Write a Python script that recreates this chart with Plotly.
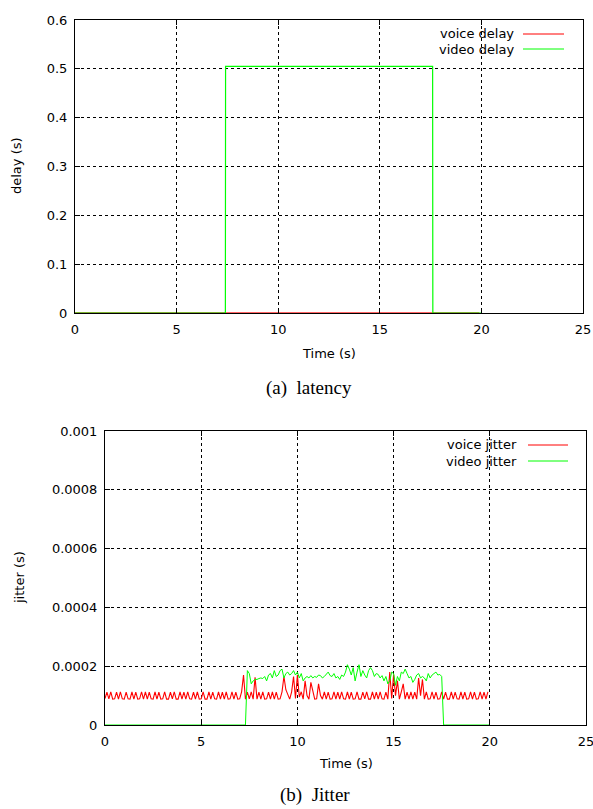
import plotly.graph_objects as go

W, H = 593, 809

# ---------------- data ----------------
# (a) latency
voice_delay_t = [0.0, 19.9]
voice_delay = [0.0002, 0.0002]
video_delay_t = [0.0, 7.4, 7.41, 17.6, 17.61, 20.0]
video_delay = [0.0, 0.0, 0.505, 0.505, 0.0, 0.0]

# (b) jitter, sampled every 0.1 s (values in microseconds)
jitter_t = [i / 10 for i in range(201)]
voice_jitter_us = [
    90, 112, 89, 113, 88, 89, 112, 88, 113, 89,
    88, 112, 89, 88, 113, 88, 112, 88, 89, 113,
    88, 113, 88, 112, 89, 88, 113, 88, 112, 88,
    89, 113, 88, 88, 112, 89, 113, 88, 88, 113,
    88, 112, 88, 113, 89, 88, 112, 88, 113, 88,
    89, 113, 88, 88, 113, 88, 112, 89, 88, 113,
    88, 112, 88, 113, 88, 89, 113, 88, 112, 88,
    89, 113, 170, 88, 112, 89, 113, 88, 162, 88,
    112, 88, 113, 88, 89, 112, 88, 113, 88, 112,
    88, 89, 113, 165, 120, 100, 88, 113, 165, 90,
    170, 95, 113, 88, 150, 100, 88, 145, 112, 88,
    89, 140, 100, 88, 113, 88, 112, 88, 89, 113,
    88, 112, 88, 113, 89, 88, 113, 88, 112, 88,
    89, 113, 88, 88, 112, 89, 113, 88, 88, 113,
    88, 112, 88, 113, 89, 88, 112, 88, 180, 90,
    172, 100, 150, 88, 113, 140, 88, 112, 88, 113,
    88, 112, 88, 160, 100, 155, 88, 113, 88, 89,
    113, 88, 112, 88, 89, 113, 88, 112, 88, 88,
    113, 88, 112, 89, 88, 113, 88, 112, 88, 89,
    113, 88, 112, 88, 89, 113, 88, 112, 88, 113,
]
video_jitter_us = (
    [0] * 74
    + [
        185, 175, 140, 150, 155, 155,                      # 7.4-7.9
        158, 160, 158, 165, 150, 170, 175, 160, 185, 165,  # 8.x
        170, 185, 190, 160, 175, 180, 170, 175, 185, 170,  # 9.x
        180, 160, 175, 150, 160, 165, 160, 168, 160, 165,  # 10.x
        162, 170, 168, 160, 165, 172, 180, 168, 165, 175,  # 11.x
        160, 165, 155, 170, 165, 180, 205, 190, 170, 195,  # 12.x
        150, 180, 205, 165, 185, 170, 160, 185, 195, 185,  # 13.x
        165, 175, 172, 160, 168, 150, 165, 140, 150, 180,  # 14.x
        175, 135, 165, 150, 180, 175, 190, 175, 160, 165,  # 15.x
        145, 155, 170, 175, 160, 165, 160, 150, 175, 160,  # 16.x
        170, 175, 180, 170, 172, 165,                      # 17.0-17.5
    ]
    + [0] * 25
)

x_ticks = [0, 5, 10, 15, 20, 25]
delay_ticks = [0, 0.1, 0.2, 0.3, 0.4, 0.5, 0.6]
delay_tick_text = ["0", "0.1", "0.2", "0.3", "0.4", "0.5", "0.6"]
jitter_ticks = [0, 0.0002, 0.0004, 0.0006, 0.0008, 0.001]
jitter_tick_text = ["0", "0.0002", "0.0004", "0.0006", "0.0008", "0.001"]

voice_jitter = [v * 1e-6 for v in voice_jitter_us]
video_jitter = [v * 1e-6 for v in video_jitter_us]

RED = "#ff0000"
GREEN = "#00ff00"
FONT = "DejaVu Sans"
FS = 13


def px(x):
    return x / W


def py(y):
    return 1 - y / H


fig = go.Figure()
fig.add_trace(go.Scatter(x=voice_delay_t, y=voice_delay, mode="lines",
                         line=dict(color=RED, width=1), xaxis="x", yaxis="y",
                         showlegend=False, cliponaxis=False))
fig.add_trace(go.Scatter(x=video_delay_t, y=video_delay, mode="lines",
                         line=dict(color=GREEN, width=1.2), xaxis="x", yaxis="y",
                         showlegend=False, cliponaxis=False))
fig.add_trace(go.Scatter(x=jitter_t[:200], y=voice_jitter, mode="lines",
                         line=dict(color=RED, width=1.1), xaxis="x2", yaxis="y2",
                         showlegend=False, cliponaxis=False))
fig.add_trace(go.Scatter(x=jitter_t, y=video_jitter, mode="lines",
                         line=dict(color=GREEN, width=1), xaxis="x2", yaxis="y2",
                         showlegend=False, cliponaxis=False))

axis_common = dict(
    showline=True, linecolor="black", linewidth=1, mirror="ticks",
    ticks="inside", ticklen=5, tickcolor="black", tickwidth=1,
    showgrid=True, gridcolor="black", gridwidth=1, griddash="dot",
    zeroline=False, automargin=False, ticklabeloverflow="allow",
    tickfont=dict(family=FONT, size=FS, color="black"),
)

top_box = (75, 583, 20, 313)
bot_box = (105, 586, 431, 725)

fig.update_layout(
    template="none",
    width=W, height=H,
    margin=dict(l=0, r=0, t=0, b=0, pad=0),
    paper_bgcolor="white", plot_bgcolor="white",
    showlegend=False,
    xaxis=dict(axis_common, domain=[px(top_box[0]), px(top_box[1])], range=[0, 25],
               tickvals=x_ticks, anchor="y", ticklabelstandoff=4),
    yaxis=dict(axis_common, domain=[py(top_box[3]), py(top_box[2])], range=[0, 0.6],
               tickvals=delay_ticks, ticktext=delay_tick_text, anchor="x",
               ticklabelstandoff=4),
    xaxis2=dict(axis_common, domain=[px(bot_box[0]), px(bot_box[1])], range=[0, 25],
                tickvals=x_ticks, anchor="y2", ticklabelstandoff=4),
    yaxis2=dict(axis_common, domain=[py(bot_box[3]), py(bot_box[2])], range=[0, 0.001],
                tickvals=jitter_ticks, ticktext=jitter_tick_text, anchor="x2",
                ticklabelstandoff=4),
)

ann = []


def text(x, y, s, size=FS, family=FONT, angle=0, xanchor="center"):
    ann.append(dict(x=px(x), y=py(y), xref="paper", yref="paper", text=s,
                    showarrow=False, textangle=angle, xanchor=xanchor,
                    yanchor="middle", font=dict(family=family, size=size, color="black")))


text(17, 166, "delay (s)", angle=-90)
text(329, 353, "Time (s)")
text(309, 388, "(a)\u00a0 latency", size=19, family="Liberation Serif")
text(19, 578, "jitter (s)", angle=-90)
text(346, 763, "Time (s)")
text(315, 795, "(b)\u00a0 Jitter", size=19, family="Liberation Serif")

# legends (gnuplot style: text right-aligned, sample line to the right)
legend_items = [
    ("voice delay", RED, 516, 523, 564, 34),
    ("video delay", GREEN, 516, 523, 564, 49),
    ("voice jitter", RED, 519, 528, 568, 445),
    ("video jitter", GREEN, 519, 528, 568, 461),
]
shapes = []
for label, color, tx, x0, x1, y in legend_items:
    text(tx, y, label, xanchor="right")
    shapes.append(dict(type="line", xref="paper", yref="paper",
                       x0=px(x0), x1=px(x1), y0=py(y), y1=py(y),
                       line=dict(color=color, width=1)))

fig.update_layout(annotations=ann, shapes=shapes)
fig.write_html("out.html")
